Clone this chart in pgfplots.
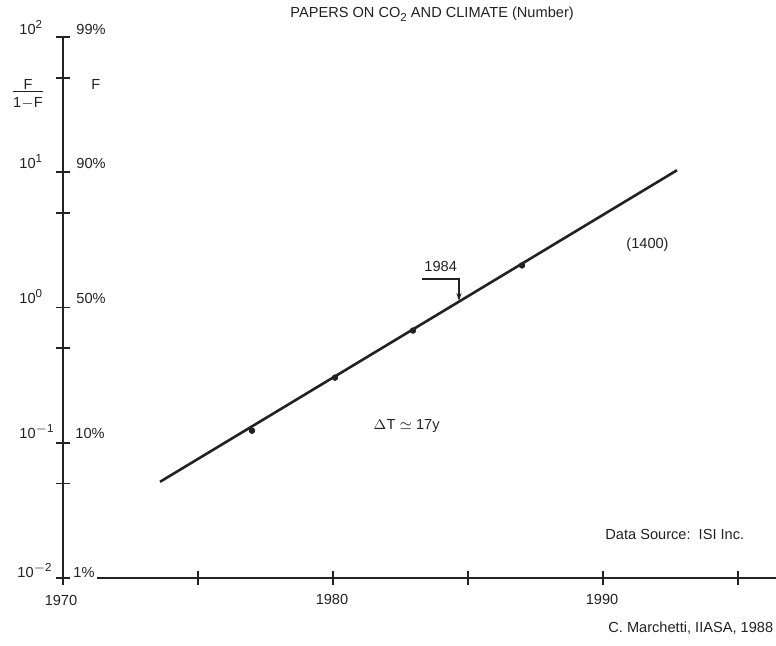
\documentclass[border=0pt]{standalone}
\usepackage{pgfplots}
\pgfplotsset{compat=1.18}
\usepackage{fontspec}
\setmainfont{Liberation Sans}
\usetikzlibrary{arrows.meta}
\definecolor{ink}{HTML}{222222}
\newcommand{\sups}[1]{\raisebox{3.4pt}{\fontsize{5.8}{6}\selectfont #1}}
\newcommand{\subs}[1]{\raisebox{-1.6pt}{\fontsize{5.8}{6}\selectfont #1}}
\begin{document}
\begin{tikzpicture}
\begin{axis}[
  scale only axis,
  width=356.5pt, height=270.5pt,
  xmin=1970, xmax=1996.407,
  ymode=log, ymin=0.01, ymax=100,
  axis lines*=left,
  x axis line style={draw=none},
  y axis line style={ink, line width=0.8pt},
  xtick={1970,1975,1980,1985,1990,1995},
  ytick={0.01,0.05,0.1,0.5,1,5,10,50,100},
  yminorticks=false, xminorticks=false,
  xticklabels={}, yticklabels={},
  tick align=center,
  major tick length=7.5pt,
  every tick/.style={ink, line width=0.9pt},
  clip=false,
]
\addplot[ink, line width=1.3pt] coordinates {(1973.593,0.05142) (1992.741,10.35)};
\addplot[only marks, mark=*, mark size=1.4pt, ink] coordinates {
  (1977.0,0.1227) (1980.074,0.3030) (1982.963,0.6756) (1987.0,2.047)};
\draw[ink, line width=0.7pt] (axis cs:1971.259,0.01) -- (axis cs:1997.5,0.01);
\coordinate (O) at (axis cs:1970,0.01);
\end{axis}
\begin{scope}[x=0.5pt,y=-0.5pt,shift={(O)},shift={(-63,-578)},
  every node/.style={font=\fontsize{7.3}{8.6}\selectfont, text=ink, inner sep=0pt}]
  % title
  \node[anchor=base west] at (290,18) {PAPERS ON CO\subs{2} AND CLIMATE (Number)};
  % left labels
  \node[anchor=base west] at (19,35) {10\sups{2}};
  \node[anchor=base west] at (19,169) {10\sups{1}};
  \node[anchor=base west] at (19,304) {10\sups{0}};
  \node[anchor=base west] at (19,439) {10\sups{$-$1}};
  \node[anchor=base west] at (17,578) {10\sups{$-$2}};
  \node at (28,95) {\begin{tabular}{@{}c@{}}F\\[-2pt]\hline\rule{0pt}{8pt}1$-$F\end{tabular}};
  % right labels
  \node[anchor=base west] at (76,35) {99\%};
  \node[anchor=base west] at (91,90) {F};
  \node[anchor=base west] at (76,169) {90\%};
  \node[anchor=base west] at (76,304) {50\%};
  \node[anchor=base west] at (75,439) {10\%};
  \node[anchor=base west] at (73,578) {1\%};
  % x labels
  \node[anchor=base] at (61,606) {1970};
  \node[anchor=base] at (332,605) {1980};
  \node[anchor=base] at (602,605) {1990};
  % annotations
  \node[anchor=base west] at (424,272) {1984};
  \draw[ink, line width=0.7pt, -{Stealth[length=4pt,width=2.6pt]}] (422,279) -- (459,279) -- (459,301);
  \node[anchor=base west] at (626,249) {(1400)};
  \node[anchor=base west] at (373,430) {$\Delta$T $\simeq$ 17y};
  \node[anchor=base west] at (605,540) {Data Source:\ \ ISI Inc.};
  \node[anchor=base west] at (608,633) {C. Marchetti, IIASA, 1988};
  \pgfresetboundingbox
  \path[use as bounding box] (0,0) rectangle (776,646);
\end{scope}
\end{tikzpicture}
\end{document}
